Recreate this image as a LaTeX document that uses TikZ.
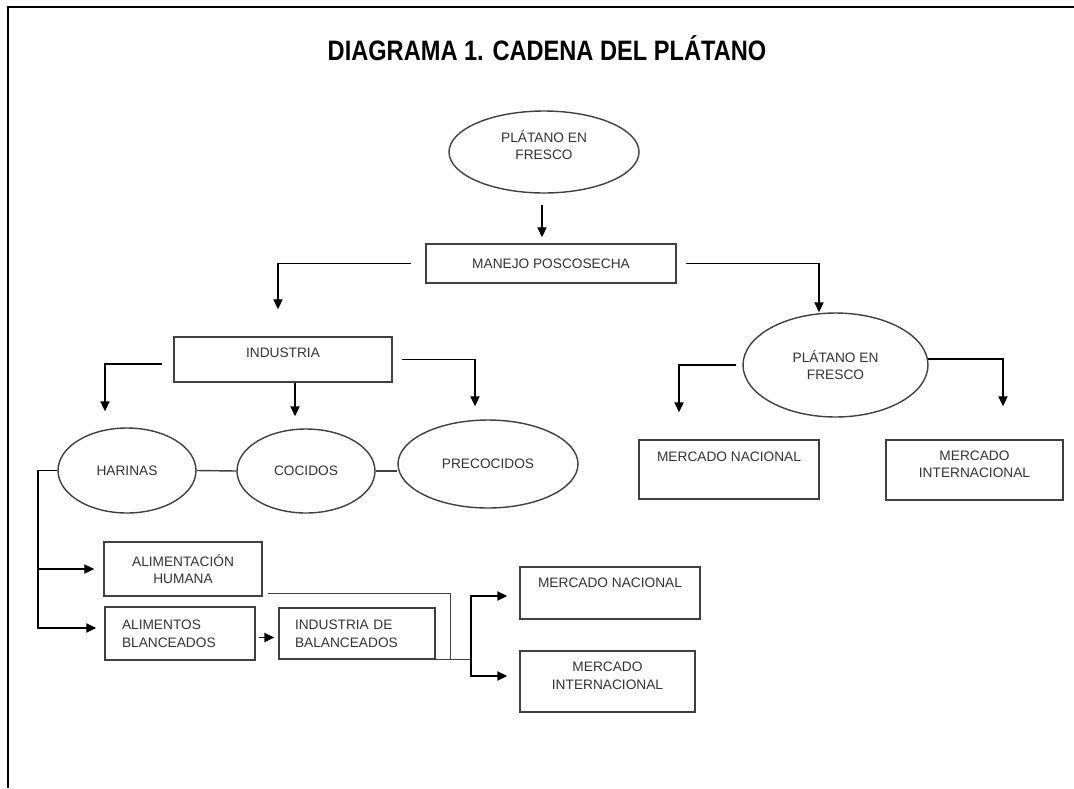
\documentclass[tikz,border=0pt]{standalone}
\usepackage{fontspec}
\setmainfont{Liberation Sans}
\usetikzlibrary{shapes.geometric,arrows.meta}

\begin{document}
\begin{tikzpicture}[x=0.02cm,y=-0.02cm,
    font=\fontsize{7.8}{10}\selectfont,
    txt/.style={text=black!80},
    caja/.style={draw=black!75, line width=0.8pt, inner sep=0pt, align=center, txt},
    elip/.style={ellipse, draw=black!75, line width=0.8pt, inner sep=0pt, align=center, txt},
    subir/.style={text height=6pt, text depth=#1},
    subirdos/.style={text height=18pt, text depth=#1},
    flecha/.style={line width=1.1pt, -{Triangle[length=0.2cm,width=0.18cm]}},
    linea/.style={draw=black!75, line width=0.8pt}]
\useasboundingbox (0,0) rectangle (1074,788);
\draw[line width=1.1pt] (8,788) -- (8,7) -- (1074,7);

\node (titulo) at (547,48) {\fontsize{16}{19}\selectfont\bfseries\scalebox{0.84}[1]{DIAGRAMA 1. CADENA DEL PLÁTANO}};

% cadena principal
\node[elip, subirdos=9.2pt, minimum width=3.8cm, minimum height=1.64cm] (pf1) at (544,152) {PLÁTANO EN\\FRESCO};
\node[caja, minimum width=5cm, minimum height=0.78cm] (mp) at (551,263.5) {MANEJO POSCOSECHA};
\node[caja, subir=7.8pt, minimum width=4.36cm, minimum height=0.9cm] (ind) at (283,359.5) {INDUSTRIA};
\node[elip, minimum width=3.7cm, minimum height=2.08cm] (pf2) at (835.5,365) {PLÁTANO EN\\FRESCO};
\node[caja, subir=14.6pt, minimum width=3.6cm, minimum height=1.18cm] (mn1) at (729,469.5) {MERCADO NACIONAL};
\node[caja, subirdos=9.2pt, minimum width=3.54cm, minimum height=1.2cm] (mi1) at (974.5,470) {MERCADO\\INTERNACIONAL};

% productos de la industria
\foreach \nom/\x/\y/\w/\h/\txt in {har/127/470.5/2.76/1.7/HARINAS, coc/306/471/2.76/1.68/COCIDOS, pre/488/464/3.6/1.76/PRECOCIDOS} {
    \node[elip, minimum width=\w cm, minimum height=\h cm] (\nom) at (\x,\y) {\txt};
}

\node[caja, minimum width=3.16cm, minimum height=1.08cm] (ah) at (183,569) {ALIMENTACIÓN\\HUMANA};
\node[caja, align=left, text width=2.32cm, inner xsep=0.34cm, minimum height=1.06cm] (ab) at (180,633.5) {ALIMENTOS\\BLANCEADOS};
\node[caja, align=left, text width=2.48cm, inner xsep=0.32cm, minimum height=1.02cm] (ib) at (357,633.5) {INDUSTRIA DE\\BALANCEADOS};
\node[caja, subir=11.8pt, minimum width=3.6cm, minimum height=1.04cm] (mn2) at (610,593) {MERCADO NACIONAL};
\node[caja, subirdos=9.2pt, minimum width=3.5cm, minimum height=1.22cm] (mi2) at (607.5,681.5) {MERCADO\\INTERNACIONAL};

% conexiones
\draw[flecha, shorten <=0.22cm, shorten >=0.12cm] ([xshift=-0.04cm]pf1.south) -- ([xshift=-0.04cm]pf1.south |- mp.north);
\draw[flecha, shorten >=0.54cm] ([xshift=-0.28cm]mp.west) -| ([xshift=-0.1cm]ind.north);
\draw[flecha] ([xshift=0.18cm]mp.east) -| ([xshift=-0.33cm]pf2.north);

\coordinate (cocin) at ([xshift=-0.22cm]coc.north);
\draw[flecha, shorten >=0.32cm] ([shift={(-0.22cm,-0.09cm)}]ind.west) -| ([xshift=-0.44cm]har.north);
\draw[flecha, shorten >=0.24cm] (ind.south -| cocin) -- (cocin);
\draw[flecha, shorten >=0.26cm] ([xshift=0.18cm]ind.east) -| ([xshift=-0.26cm]pre.north);
\draw[linea] (har.east) -- (coc.west);
\draw[linea] (coc.east) -- (coc.east -| pre.west);

% ramas de harinas
\coordinate (trk) at ([xshift=-0.38cm]har.west);
\draw[flecha, shorten >=0.16cm] (har.west) -- (trk) |- ([yshift=0.11cm]ab.west);
\draw[flecha, shorten >=0.18cm] (trk |- ah.west) -- (ah.west);
\draw[flecha, shorten <=0.06cm, shorten >=0.08cm] ([yshift=-0.08cm]ab.east) -- ([yshift=-0.08cm]ab.east -| ib.west);

% salida a mercados
\coordinate (jm) at ([xshift=0.3cm]ib.south east);
\coordinate (jn) at ([xshift=0.7cm]ib.south east);
\draw[linea] ([shift={(0.1cm,0.06cm)}]ah.south east) -| (jm);
\draw[linea] (ib.south east) -- (jn);
\draw[flecha, shorten >=0.24cm] (jn) |- ([yshift=-0.06cm]mn2.west);
\draw[flecha, shorten >=0.24cm] (jn) |- ([yshift=0.11cm]mi2.west);

% platano en fresco a mercados
\draw[flecha, shorten >=0.54cm] ([xshift=-0.12cm]pf2.west) -| ([xshift=-1cm]mn1.north);
\draw[flecha, shorten >=0.66cm] (pf2.4) -| ([xshift=0.57cm]mi1.north);
\end{tikzpicture}
\end{document}
